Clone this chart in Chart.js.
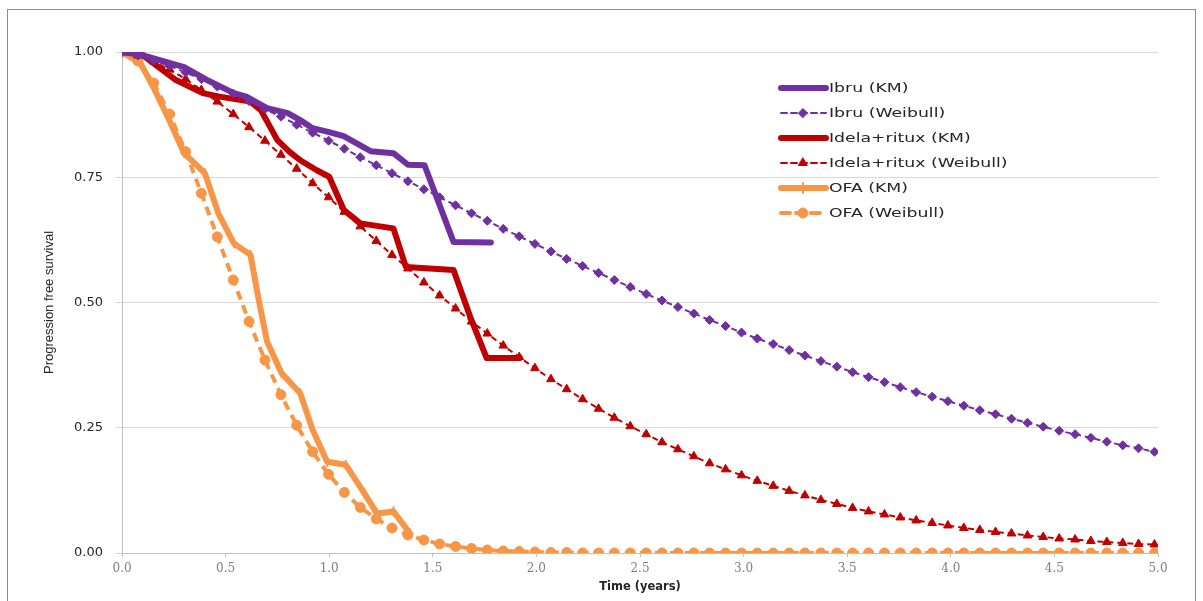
<!DOCTYPE html>
<html>
<head>
<meta charset="utf-8">
<title>Progression free survival</title>
<script src="https://cdn.jsdelivr.net/npm/chart.js@4.4.0/dist/chart.umd.min.js"></script>
<style>
  html, body { margin: 0; padding: 0; background: #fff; }
  #wrap { position: relative; width: 1203px; height: 601px; overflow: hidden; }
  #frame { position: absolute; left: 7px; top: 9px; width: 1189px; height: 620px; border: 1px solid #8c8c8c; box-sizing: border-box; pointer-events: none; }
  canvas { position: absolute; left: 0; top: 0; }
</style>
</head>
<body>
<div id="wrap">
  <canvas id="pfs_chart" width="1203" height="601"></canvas>
  <div id="frame"></div>
</div>
<script>
// DATA

// Kaplan-Meier curves: time (years) / survival
const ibruKmTime = [0, 0.07, 0.30, 0.42, 0.54, 0.60, 0.70, 0.80, 0.86, 0.92, 1.00, 1.07, 1.20, 1.31, 1.38, 1.46, 1.60, 1.78];
const ibruKmPfs  = [1.000, 0.997, 0.970, 0.942, 0.918, 0.911, 0.888, 0.878, 0.864, 0.848, 0.840, 0.832, 0.802, 0.798, 0.775, 0.774, 0.621, 0.620];

const idelaKmTime = [0, 0.10, 0.26, 0.39, 0.47, 0.62, 0.67, 0.75, 0.81, 0.86, 0.94, 1.00, 1.07, 1.15, 1.31, 1.37, 1.60, 1.68, 1.76, 1.92];
const idelaKmPfs  = [1.000, 0.994, 0.944, 0.918, 0.911, 0.901, 0.884, 0.824, 0.800, 0.784, 0.764, 0.751, 0.685, 0.658, 0.648, 0.571, 0.565, 0.472, 0.389, 0.389];

const ofaKmTime = [0, 0.09, 0.15, 0.22, 0.30, 0.40, 0.465, 0.54, 0.62, 0.66, 0.70, 0.77, 0.86, 0.92, 0.99, 1.08, 1.17, 1.23, 1.31, 1.39];
const ofaKmPfs  = [1.000, 0.977, 0.931, 0.871, 0.798, 0.758, 0.678, 0.618, 0.595, 0.505, 0.422, 0.359, 0.319, 0.246, 0.182, 0.176, 0.119, 0.079, 0.083, 0.039];

// Weibull fits, one point every 4 weeks
const weibullTime = [0, 0.077, 0.153, 0.230, 0.307, 0.383, 0.460, 0.537, 0.613, 0.690,
  0.767, 0.843, 0.920, 0.997, 1.073, 1.150, 1.227, 1.303, 1.380, 1.457,
  1.533, 1.610, 1.687, 1.763, 1.840, 1.917, 1.993, 2.070, 2.146, 2.223,
  2.300, 2.376, 2.453, 2.530, 2.606, 2.683, 2.760, 2.836, 2.913, 2.990,
  3.066, 3.143, 3.220, 3.296, 3.373, 3.450, 3.526, 3.603, 3.680, 3.756,
  3.833, 3.910, 3.986, 4.063, 4.140, 4.216, 4.293, 4.370, 4.446, 4.523,
  4.600, 4.676, 4.753, 4.830, 4.906, 4.983];

const ibruWeibull = [1.000, 0.993, 0.983, 0.972, 0.959, 0.946, 0.931, 0.917, 0.902, 0.886,
  0.871, 0.855, 0.839, 0.823, 0.807, 0.790, 0.774, 0.758, 0.742, 0.726,
  0.710, 0.694, 0.678, 0.663, 0.647, 0.632, 0.617, 0.602, 0.587, 0.573,
  0.559, 0.545, 0.531, 0.517, 0.504, 0.491, 0.478, 0.465, 0.453, 0.440,
  0.428, 0.417, 0.405, 0.394, 0.383, 0.372, 0.361, 0.351, 0.341, 0.331,
  0.321, 0.312, 0.303, 0.294, 0.285, 0.277, 0.268, 0.260, 0.252, 0.244,
  0.237, 0.230, 0.222, 0.215, 0.209, 0.202];

const idelaWeibull = [1.000, 0.993, 0.981, 0.965, 0.946, 0.924, 0.901, 0.876, 0.850, 0.823,
  0.795, 0.767, 0.738, 0.710, 0.681, 0.652, 0.623, 0.595, 0.568, 0.540,
  0.514, 0.488, 0.462, 0.438, 0.414, 0.391, 0.369, 0.347, 0.327, 0.307,
  0.288, 0.270, 0.253, 0.237, 0.221, 0.207, 0.193, 0.179, 0.167, 0.155,
  0.144, 0.134, 0.124, 0.115, 0.106, 0.098, 0.090, 0.083, 0.077, 0.071,
  0.065, 0.060, 0.055, 0.050, 0.046, 0.042, 0.039, 0.035, 0.032, 0.029,
  0.027, 0.024, 0.022, 0.020, 0.018, 0.017];

const ofaWeibull = [1.000, 0.982, 0.938, 0.876, 0.801, 0.718, 0.631, 0.545, 0.462, 0.385,
  0.316, 0.255, 0.202, 0.157, 0.121, 0.091, 0.068, 0.050, 0.036, 0.026,
  0.018, 0.013, 0.009, 0.006, 0.004, 0.003, 0.002, 0.001, 0.001, 0,
  0, 0, 0, 0, 0, 0, 0, 0, 0, 0,
  0, 0, 0, 0, 0, 0, 0, 0, 0, 0,
  0, 0, 0, 0, 0, 0, 0, 0, 0, 0,
  0, 0, 0, 0, 0, 0];

const seriesLabels = ["Ibru (KM)", "Ibru (Weibull)", "Idela+ritux (KM)", "Idela+ritux (Weibull)", "OFA (KM)", "OFA (Weibull)"];
const xTickStep = 0.5;
const yTickStep = 0.25;

// COLOURS
const PURPLE = "#7030A0";
const RED = "#C00000";
const ORANGE = "#F79646";

function toPoints(times, values){
	return times.map((t, i) => ({ x: t, y: values[i] }));
}

// legend drawn inside the plot, top right (text is a little stretched, like the original)
const insideLegend = {
	id: "insideLegend",
	afterDraw(chart){
		const ctx = chart.ctx;
		chart.data.datasets.forEach((ds, i) => {
			const y = 88 + i * 25;
			ctx.save();
			ctx.strokeStyle = ds.borderColor;
			ctx.lineWidth = ds.borderWidth;
			ctx.setLineDash(ds.borderDash || []);
			ctx.lineCap = "round";
			ctx.beginPath();
			ctx.moveTo(781, y);
			ctx.lineTo(826, y);
			ctx.stroke();
			ctx.setLineDash([]);
			if(ds.pointRadius > 0){
				ctx.fillStyle = ds.pointBackgroundColor;
				ctx.strokeStyle = ds.pointBorderColor;
				ctx.lineWidth = ds.pointBorderWidth;
				Chart.helpers.drawPoint(ctx, {
					pointStyle: ds.pointStyle,
					radius: ds.pointRadius,
					rotation: ds.pointRotation || 0,
					borderWidth: ds.pointBorderWidth
				}, 803, y);
			}
			ctx.translate(829, y + 1);
			ctx.scale(1.33, 1);
			ctx.fillStyle = "#262626";
			ctx.font = "13px 'DejaVu Sans'";
			ctx.textBaseline = "middle";
			ctx.fillText(ds.label, 0, 0);
			ctx.restore();
		});
	}
};

const ctx = document.getElementById("pfs_chart").getContext("2d");

new Chart(ctx, {
	type: "line",
	data: {
		datasets: [
		{
			label: seriesLabels[0],
			data: toPoints(ibruKmTime, ibruKmPfs),
			borderColor: PURPLE,
			backgroundColor: PURPLE,
			borderWidth: 6,
			pointRadius: 0,
			borderCapStyle: "round",
			borderJoinStyle: "round"
		},
		{
			label: seriesLabels[1],
			data: toPoints(weibullTime, ibruWeibull),
			borderColor: PURPLE,
			backgroundColor: PURPLE,
			borderWidth: 2,
			borderDash: [6, 4],
			pointStyle: "rectRot",
			pointRadius: 4.5,
			pointBackgroundColor: PURPLE,
			pointBorderColor: PURPLE,
			pointBorderWidth: 1
		},
		{
			label: seriesLabels[2],
			data: toPoints(idelaKmTime, idelaKmPfs),
			borderColor: RED,
			backgroundColor: RED,
			borderWidth: 6,
			pointRadius: 0,
			borderCapStyle: "round",
			borderJoinStyle: "round"
		},
		{
			label: seriesLabels[3],
			data: toPoints(weibullTime, idelaWeibull),
			borderColor: RED,
			backgroundColor: RED,
			borderWidth: 2,
			borderDash: [6, 4],
			pointStyle: "triangle",
			pointRadius: 5,
			pointBackgroundColor: RED,
			pointBorderColor: RED,
			pointBorderWidth: 1
		},
		{
			label: seriesLabels[4],
			data: toPoints(ofaKmTime, ofaKmPfs),
			borderColor: ORANGE,
			backgroundColor: ORANGE,
			borderWidth: 6,
			pointStyle: "line",
			pointRotation: 90,
			pointRadius: 5,
			pointBackgroundColor: ORANGE,
			pointBorderColor: ORANGE,
			pointBorderWidth: 2,
			borderCapStyle: "round",
			borderJoinStyle: "round"
		},
		{
			label: seriesLabels[5],
			data: toPoints(weibullTime, ofaWeibull),
			borderColor: ORANGE,
			backgroundColor: ORANGE,
			borderWidth: 4,
			borderDash: [9, 6],
			pointStyle: "circle",
			pointRadius: 5,
			pointBackgroundColor: ORANGE,
			pointBorderColor: ORANGE,
			pointBorderWidth: 1
		}
		]
	},
	options: {
		responsive: false,
		animation: false,
		events: [],
		layout: { padding: { left: 38, right: 45, top: 52, bottom: 0 } },
		elements: { line: { tension: 0, fill: false } },
		plugins: {
			legend: { display: false },
			tooltip: { enabled: false }
		},
		scales: {
			x: {
				type: "linear",
				min: 0,
				max: 5,
				afterFit: s => { s.height = 48; },
				ticks: {
					stepSize: xTickStep,
					callback: v => v.toFixed(1),
					color: "#7F7F7F",
					font: { family: "'DejaVu Serif'", size: 12 },
					padding: 5,
					maxRotation: 0
				},
				grid: { drawOnChartArea: false, color: "#BFBFBF", tickLength: 4 },
				border: { color: "#BFBFBF" },
				title: {
					display: true,
					text: "Time (years)",
					color: "#262626",
					font: { family: "'DejaVu Sans'", size: 11.5, weight: "bold" },
					padding: { top: 0, bottom: 7 }
				}
			},
			y: {
				min: 0,
				max: 1,
				afterFit: s => { s.width = 84; },
				ticks: {
					stepSize: yTickStep,
					callback: v => v.toFixed(2),
					color: "#262626",
					font: { family: "'DejaVu Sans'", size: 13 },
					padding: 12
				},
				grid: { color: "#D9D9D9", lineWidth: 1, tickLength: 7 },
				border: { color: "#BFBFBF" },
				title: {
					display: true,
					text: "Progression free survival",
					color: "#262626",
					font: { family: "'Liberation Sans'", size: 13 },
					padding: { top: 4, bottom: 0 }
				}
			}
		}
	},
	plugins: [insideLegend]
});
</script>
</body>
</html>
